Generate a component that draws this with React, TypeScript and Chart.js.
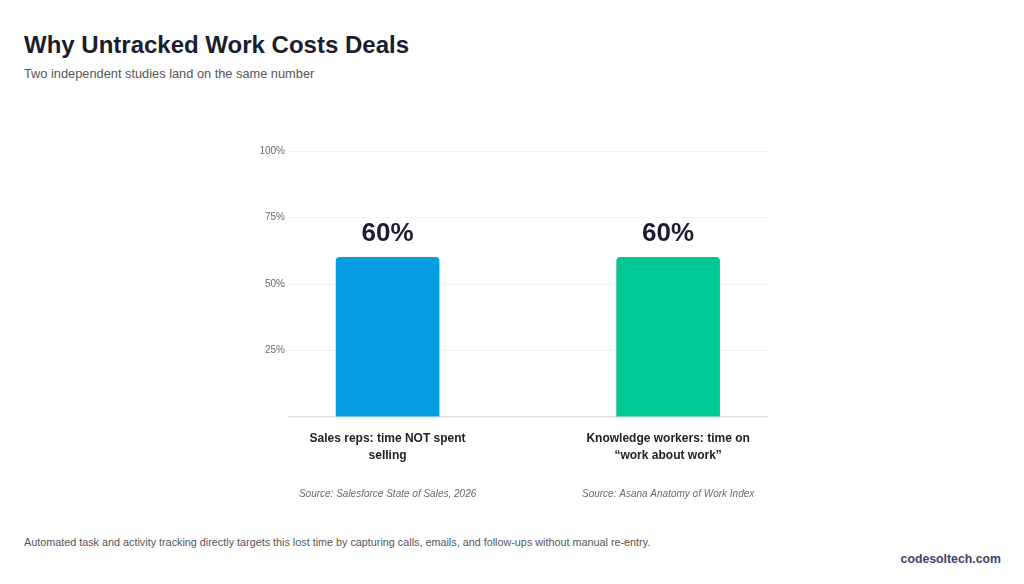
import React, { useEffect, useRef } from "react";
import { Chart, registerables } from "chart.js";

Chart.register(...registerables);

const categories: string[][] = [
  ["Sales reps: time NOT spent", "selling"],
  ["Knowledge workers: time on", "\u201cwork about work\u201d"],
];
const sources: string[] = [
  "Source: Salesforce State of Sales, 2026",
  "Source: Asana Anatomy of Work Index",
];
const values: number[] = [60, 60];
const barColors: string[] = ["#049DE2", "#00C894"];
const yTicks: number[] = [0, 25, 50, 75, 100];

const FONT = '"Liberation Sans", Arial, Helvetica, sans-serif';

const valueLabelPlugin = {
  id: "valueLabels",
  afterDatasetsDraw(chart: any) {
    const ctx = chart.ctx;
    const meta = chart.getDatasetMeta(0);
    ctx.save();
    ctx.font = `bold 26px ${FONT}`;
    ctx.fillStyle = "#1b1c2e";
    ctx.textAlign = "center";
    ctx.textBaseline = "alphabetic";
    meta.data.forEach((bar: any, i: number) => {
      ctx.fillText(`${values[i]}%`, bar.x, bar.y - 16);
    });
    ctx.restore();
  },
};

function BarChart() {
  const ref = useRef<HTMLCanvasElement | null>(null);
  useEffect(() => {
    if (!ref.current) return;
    const chart = new Chart(ref.current, {
      type: "bar",
      data: {
        datasets: [
          {
            data: values.map((v, i) => ({ x: i, y: v })) as any,
            backgroundColor: barColors,
            borderRadius: { topLeft: 4, topRight: 4, bottomLeft: 0, bottomRight: 0 },
            borderSkipped: false,
            barThickness: 103,
          },
        ],
      },
      options: {
        animation: false,
        responsive: false,
        maintainAspectRatio: false,
        layout: { padding: { left: 0, right: 52, top: 30, bottom: 14 } },
        plugins: { legend: { display: false }, tooltip: { enabled: false } },
        scales: {
          x: {
            type: "linear",
            position: "bottom",
            offset: false,
            min: -0.355,
            max: 1.356,
            grid: { display: false, drawTicks: false, offset: false },
            border: { display: false },
            afterBuildTicks: (axis: any) => {
              axis.ticks = categories.map((_, i) => ({ value: i }));
            },
            afterFit: (axis: any) => {
              axis.height = 60;
            },
            ticks: {
              autoSkip: false,
              maxRotation: 0,
              padding: 13,
              color: "#222226",
              font: { family: FONT, size: 12, weight: "bold", lineHeight: 1.4 },
              callback: (v: any) => categories[Number(v)] ?? "",
            },
          },
          x2: {
            type: "linear",
            position: "bottom",
            offset: false,
            min: -0.355,
            max: 1.356,
            grid: { display: false, drawTicks: false, offset: false },
            border: { display: false },
            afterBuildTicks: (axis: any) => {
              axis.ticks = sources.map((_, i) => ({ value: i }));
            },
            afterFit: (axis: any) => {
              axis.height = 30;
            },
            ticks: {
              autoSkip: false,
              maxRotation: 0,
              padding: 11,
              color: "#6b6b6b",
              font: { family: FONT, size: 10, style: "italic" },
              callback: (v: any) => sources[Number(v)] ?? "",
            },
          },
          y: {
            min: 0,
            max: 100,
            afterBuildTicks: (axis: any) => {
              axis.ticks = yTicks.map((t) => ({ value: t }));
            },
            afterFit: (axis: any) => {
              axis.width = 88;
            },
            grid: {
              drawTicks: false,
              color: (c: any) => (c.tick && c.tick.value === 0 ? "#e2e2e6" : "#f3f3f5"),
              lineWidth: (c: any) => (c.tick && c.tick.value === 0 ? 1.5 : 1),
            },
            border: { display: false },
            ticks: {
              padding: 3,
              color: "#6a6a6a",
              font: { family: FONT, size: 10 },
              callback: (v: any) => (Number(v) === 0 ? "" : `${v}%`),
            },
          },
        },
      },
      plugins: [valueLabelPlugin],
    } as any);
    return () => chart.destroy();
  }, []);
  return (
    <canvas
      ref={ref}
      width={620}
      height={400}
      style={{ position: "absolute", left: 200, top: 121, width: 620, height: 400 }}
    />
  );
}

export default function App() {
  return (
    <div
      style={{
        position: "absolute",
        left: 0,
        top: 0,
        width: 1024,
        height: 584,
        background: "#ffffff",
        fontFamily: FONT,
        overflow: "hidden",
      }}
    >
      <div
        style={{
          position: "absolute",
          left: 24,
          top: 30,
          fontSize: 24,
          fontWeight: 700,
          color: "#1b1c2e",
          lineHeight: "30px",
          whiteSpace: "nowrap",
        }}
      >
        Why Untracked Work Costs Deals
      </div>
      <div
        style={{
          position: "absolute",
          left: 24,
          top: 66,
          fontSize: 12.8,
          color: "#555558",
          lineHeight: "16px",
          whiteSpace: "nowrap",
        }}
      >
        Two independent studies land on the same number
      </div>
      <BarChart />
      <div
        style={{
          position: "absolute",
          left: 24,
          top: 535,
          fontSize: 10.8,
          color: "#555558",
          lineHeight: "14px",
          whiteSpace: "nowrap",
        }}
      >
        Automated task and activity tracking directly targets this lost time by capturing calls, emails, and follow-ups without manual re-entry.
      </div>
      <div
        style={{
          position: "absolute",
          right: 23,
          top: 551,
          fontSize: 12.3,
          fontWeight: 700,
          color: "#3f3f6a",
          lineHeight: "16px",
          whiteSpace: "nowrap",
        }}
      >
        codesoltech.com
      </div>
    </div>
  );
}
